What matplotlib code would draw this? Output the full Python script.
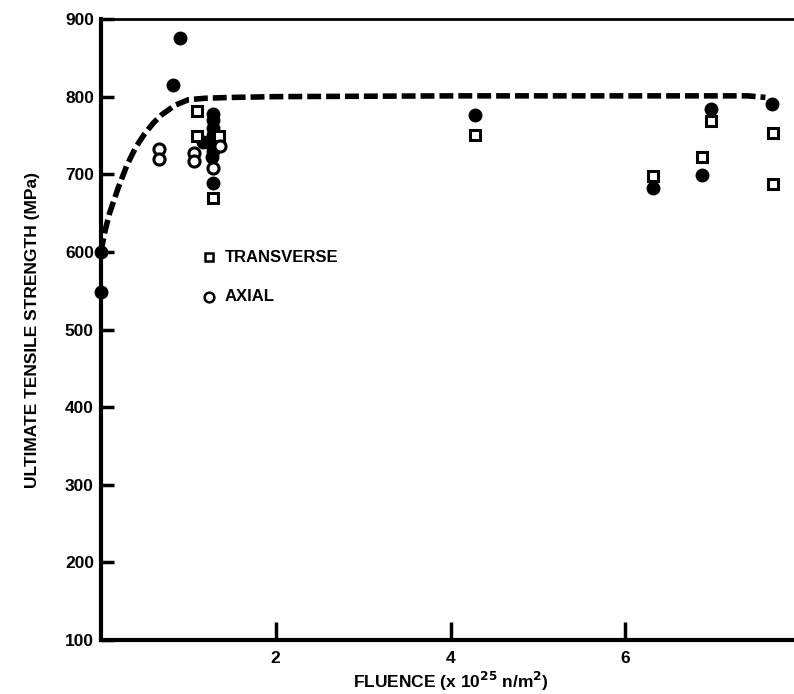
import matplotlib.pyplot as plt

plt.rcParams['font.family'] = ['Liberation Sans', 'DejaVu Sans']
plt.rcParams['font.weight'] = 'bold'
plt.rcParams['mathtext.default'] = 'bf'

# 数据
filled_x = [0.9, 0.82, 0.0, 0.0, 1.28, 1.28, 1.28, 1.28, 1.28, 1.28, 1.27, 1.28,
            1.17, 1.22, 4.28, 6.98, 6.87, 6.32, 7.68]
filled_y = [875, 815, 600, 548, 778, 770, 760, 750, 740, 730, 722, 689,
            742, 742, 776, 784, 699, 682, 790]

trans_x = [1.10, 1.10, 1.35, 1.28, 4.28, 6.98, 6.87, 6.32, 7.69, 7.69]
trans_y = [781, 749, 749, 670, 751, 769, 722, 698, 753, 687]

axial_x = [0.66, 0.66, 1.07, 1.07, 1.36, 1.28]
axial_y = [732, 720, 728, 717, 736, 708]

# 趋势线
curve_x = [0.0, 0.05, 0.1, 0.2, 0.3, 0.4, 0.5, 0.6, 0.7, 0.85, 1.0, 1.2, 1.5,
           2.0, 4.0, 6.0, 7.4, 7.6]
curve_y = [600, 628, 650, 683, 712, 735, 752, 766, 777, 789, 796, 798, 799,
           800, 801, 801, 801, 799]

yticks = [100, 200, 300, 400, 500, 600, 700, 800, 900]
xticks = [2, 4, 6, 8]

fig = plt.figure(figsize=(7.94, 6.94), dpi=100)
ax = fig.add_axes([0.127, 0.0778, 0.881, 0.8948])

line, = ax.plot(curve_x, curve_y, color='black', lw=4, solid_capstyle='butt')
line.set_dashes([2.5, 0.9])
line.set_dash_capstyle('butt')

ax.plot(filled_x, filled_y, 'o', color='black', ms=9, clip_on=False)
ax.plot(trans_x, trans_y, 's', mfc='white', mec='black', mew=2.2, ms=7)
ax.plot(axial_x, axial_y, 'o', mfc='white', mec='black', mew=2.2, ms=8)

# 图例
ax.plot([1.24], [593], 's', mfc='white', mec='black', mew=1.8, ms=6)
ax.plot([1.24], [542], 'o', mfc='white', mec='black', mew=1.8, ms=7)
ax.text(1.42, 593, 'TRANSVERSE', fontsize=12, va='center', ha='left')
ax.text(1.42, 542, 'AXIAL', fontsize=12, va='center', ha='left')

ax.set_xlim(0, 8)
ax.set_ylim(100, 900)
ax.set_xticks(xticks)
ax.set_yticks(yticks)
ax.tick_params(direction='in', labelsize=12.5, width=2.5)
ax.tick_params(axis='y', length=9, pad=5)
ax.tick_params(axis='x', length=13, pad=8)
for lab in ax.get_xticklabels() + ax.get_yticklabels():
    lab.set_fontweight('bold')

ax.spines['left'].set_linewidth(3)
ax.spines['bottom'].set_linewidth(3)
ax.spines['top'].set_linewidth(2)
ax.spines['right'].set_visible(False)

ax.set_ylabel('ULTIMATE TENSILE STRENGTH (MPa)', fontsize=12.5, fontweight='bold', labelpad=18)
ax.set_xlabel('FLUENCE (x 10$^{25}$ n/m$^{2}$)', fontsize=12.5, fontweight='bold', labelpad=3)

fig.savefig('out.png', dpi=100)
